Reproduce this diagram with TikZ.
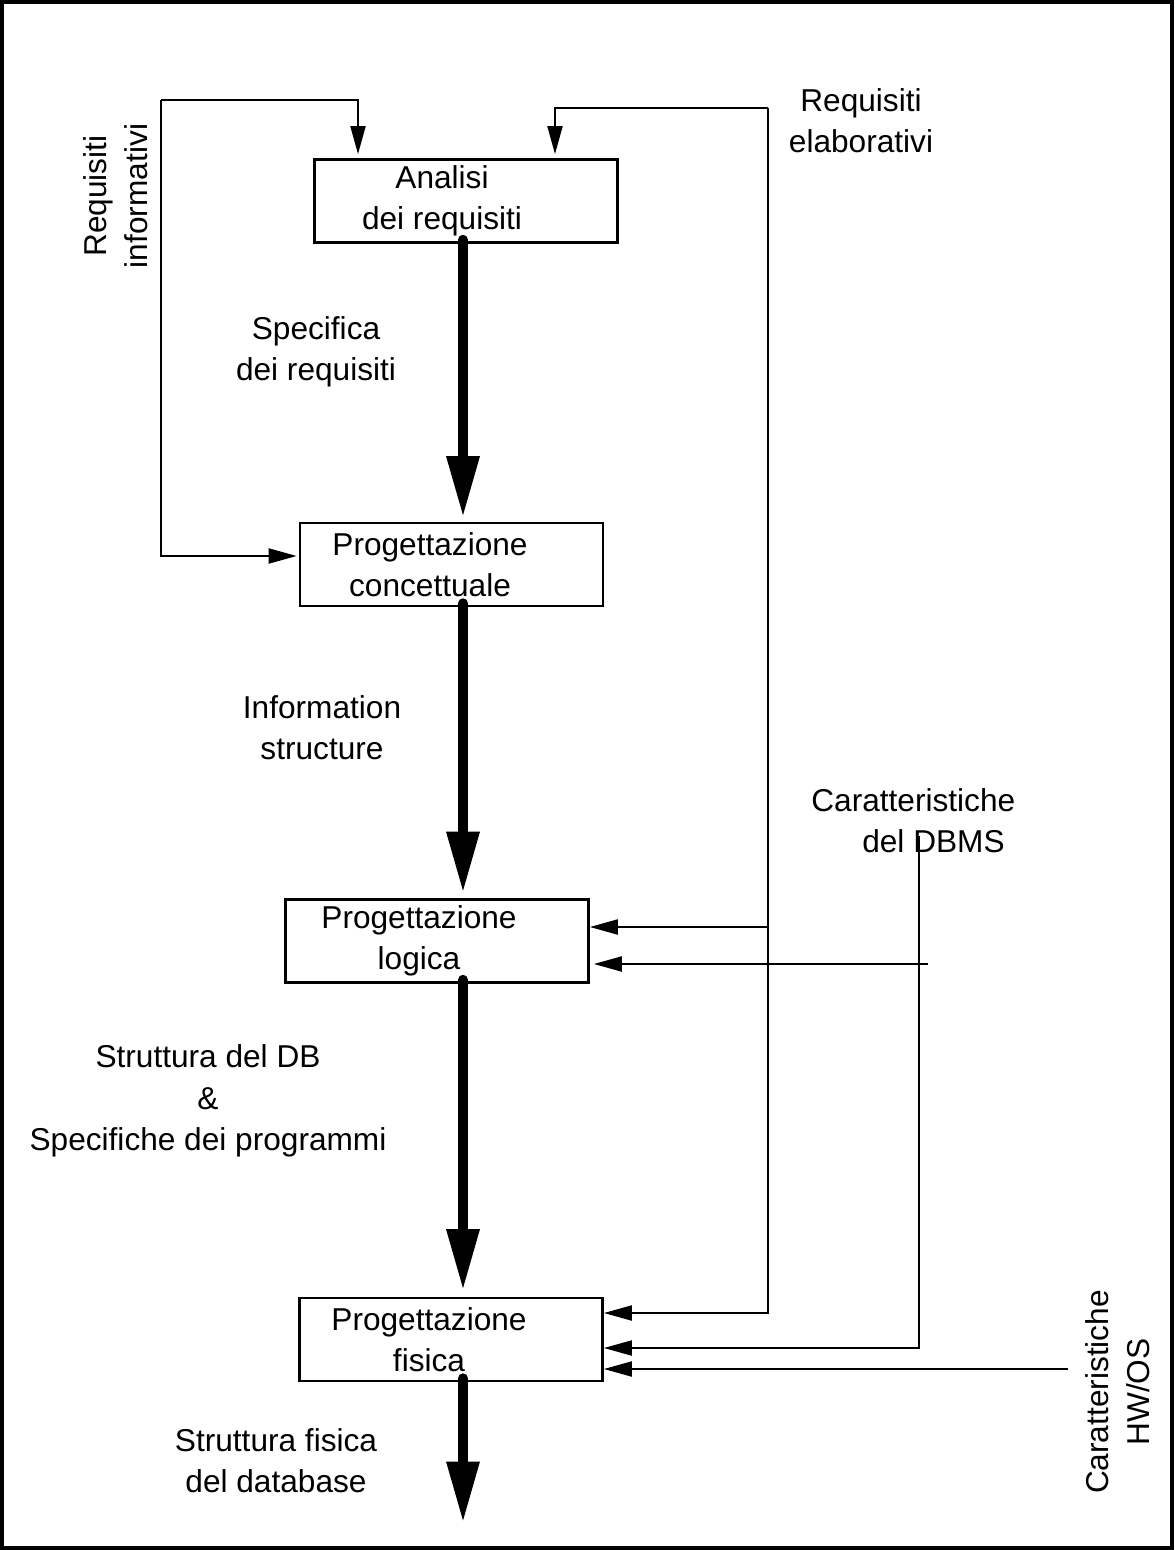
\documentclass[tikz,border=0pt]{standalone}
\usepackage{fontspec}
\setmainfont{Liberation Sans}
\usetikzlibrary{arrows.meta}

\begin{document}
\begin{tikzpicture}[x=0.02cm, y=-0.02cm,
	every node/.style={font=\fontsize{18}{23.5}\selectfont, align=center, inner sep=0pt},
	phase/.style={draw, line width=1.5pt, minimum width=6.06cm, minimum height=1.66cm},
	feed/.style={line width=1.3pt, -{Triangle[length=16pt,width=8.5pt]}},
	flow/.style={line width=5.7pt, line cap=round, -{Triangle[length=35pt,width=17.5pt]}}]
	\useasboundingbox (0,0) rectangle (1174,1550);
	\draw[line width=2.5pt] (2,2) rectangle (1172,1548);
	% fasi
	\node[phase, label={[xshift=-0.48cm]center:Analisi\\dei requisiti}] (ana) at (466,201) {};
	\node[phase, label={[xshift=-0.43cm]center:Progettazione\\concettuale}] (conc) at (451.5,564.5) {};
	\node[phase, label={[xshift=-0.36cm]center:Progettazione\\logica}] (logi) at (437,941) {};
	\node[phase, label={[xshift=-0.44cm]center:Progettazione\\fisica}] (fis) at (451,1339.5) {};
	% etichette
	\node[rotate=90] (rinf) at (116,196) {Requisiti\\informativi};
	\node (rela) at (861,121) {Requisiti\\elaborativi};
	\node (spec) at (316,352) {Specifica\\dei requisiti};
	\node (info) at (322,728) {Information\\structure};
	\node[anchor=west, align=left] (dbms) at (811,821) {Caratteristiche\\\hspace*{29pt}del DBMS};
	\node (strdb) at (208,1101) {Struttura del DB\\\&\\Specifiche dei programmi};
	\node (strfis) at (276,1461) {Struttura fisica\\del database};
	\node[rotate=90] (hwos) at (1118,1392) {Caratteristiche\\HW/OS};
	% flusso principale
	\coordinate (spine) at (463,0);
	\coordinate (out) at (463,1523);
	\draw[flow] ([yshift=0.08cm]ana.south -| spine) -- ([yshift=0.08cm]conc.north -| spine);
	\draw[flow] ([yshift=0.08cm]conc.south -| spine) -- ([yshift=0.1cm]logi.north -| spine);
	\draw[flow] ([yshift=0.08cm]logi.south -| spine) -- ([yshift=0.12cm]fis.north -| spine);
	\draw[flow] ([yshift=0.08cm]fis.south -| spine) -- (out);
	% requisiti informativi
	\coordinate (ri1) at (161,100);
	\coordinate (ri2) at (161,556);
	\coordinate (riA) at (358,100);
	\draw[feed] (ri1) -| ([yshift=0.08cm]ana.north -| riA);
	\draw[feed] (ri1) |- ([xshift=-0.04cm]conc.west |- ri2);
	% requisiti elaborativi
	\coordinate (re1) at (768,108);
	\coordinate (re2) at (768,1313);
	\coordinate (reA) at (555,108);
	\coordinate (reL) at (768,927);
	\draw[feed] (re1) -| ([yshift=0.08cm]ana.north -| reA);
	\draw[feed] (re1) -- (re2) -- (re2 -| fis.east);
	\draw[feed] (reL) -- (reL -| logi.east);
	% caratteristiche del DBMS
	\coordinate (db1) at (919,836);
	\coordinate (db2) at (919,1348);
	\coordinate (dbL) at (928,964);
	\draw[feed] (db1) -- (db2) -- (db2 -| fis.east);
	\draw[feed] (dbL) -- ([xshift=0.08cm]dbL -| logi.east);
	% caratteristiche HW/OS
	\coordinate (hw) at (1068,1369);
	\draw[feed] (hw) -- (hw -| fis.east);
\end{tikzpicture}
\end{document}
